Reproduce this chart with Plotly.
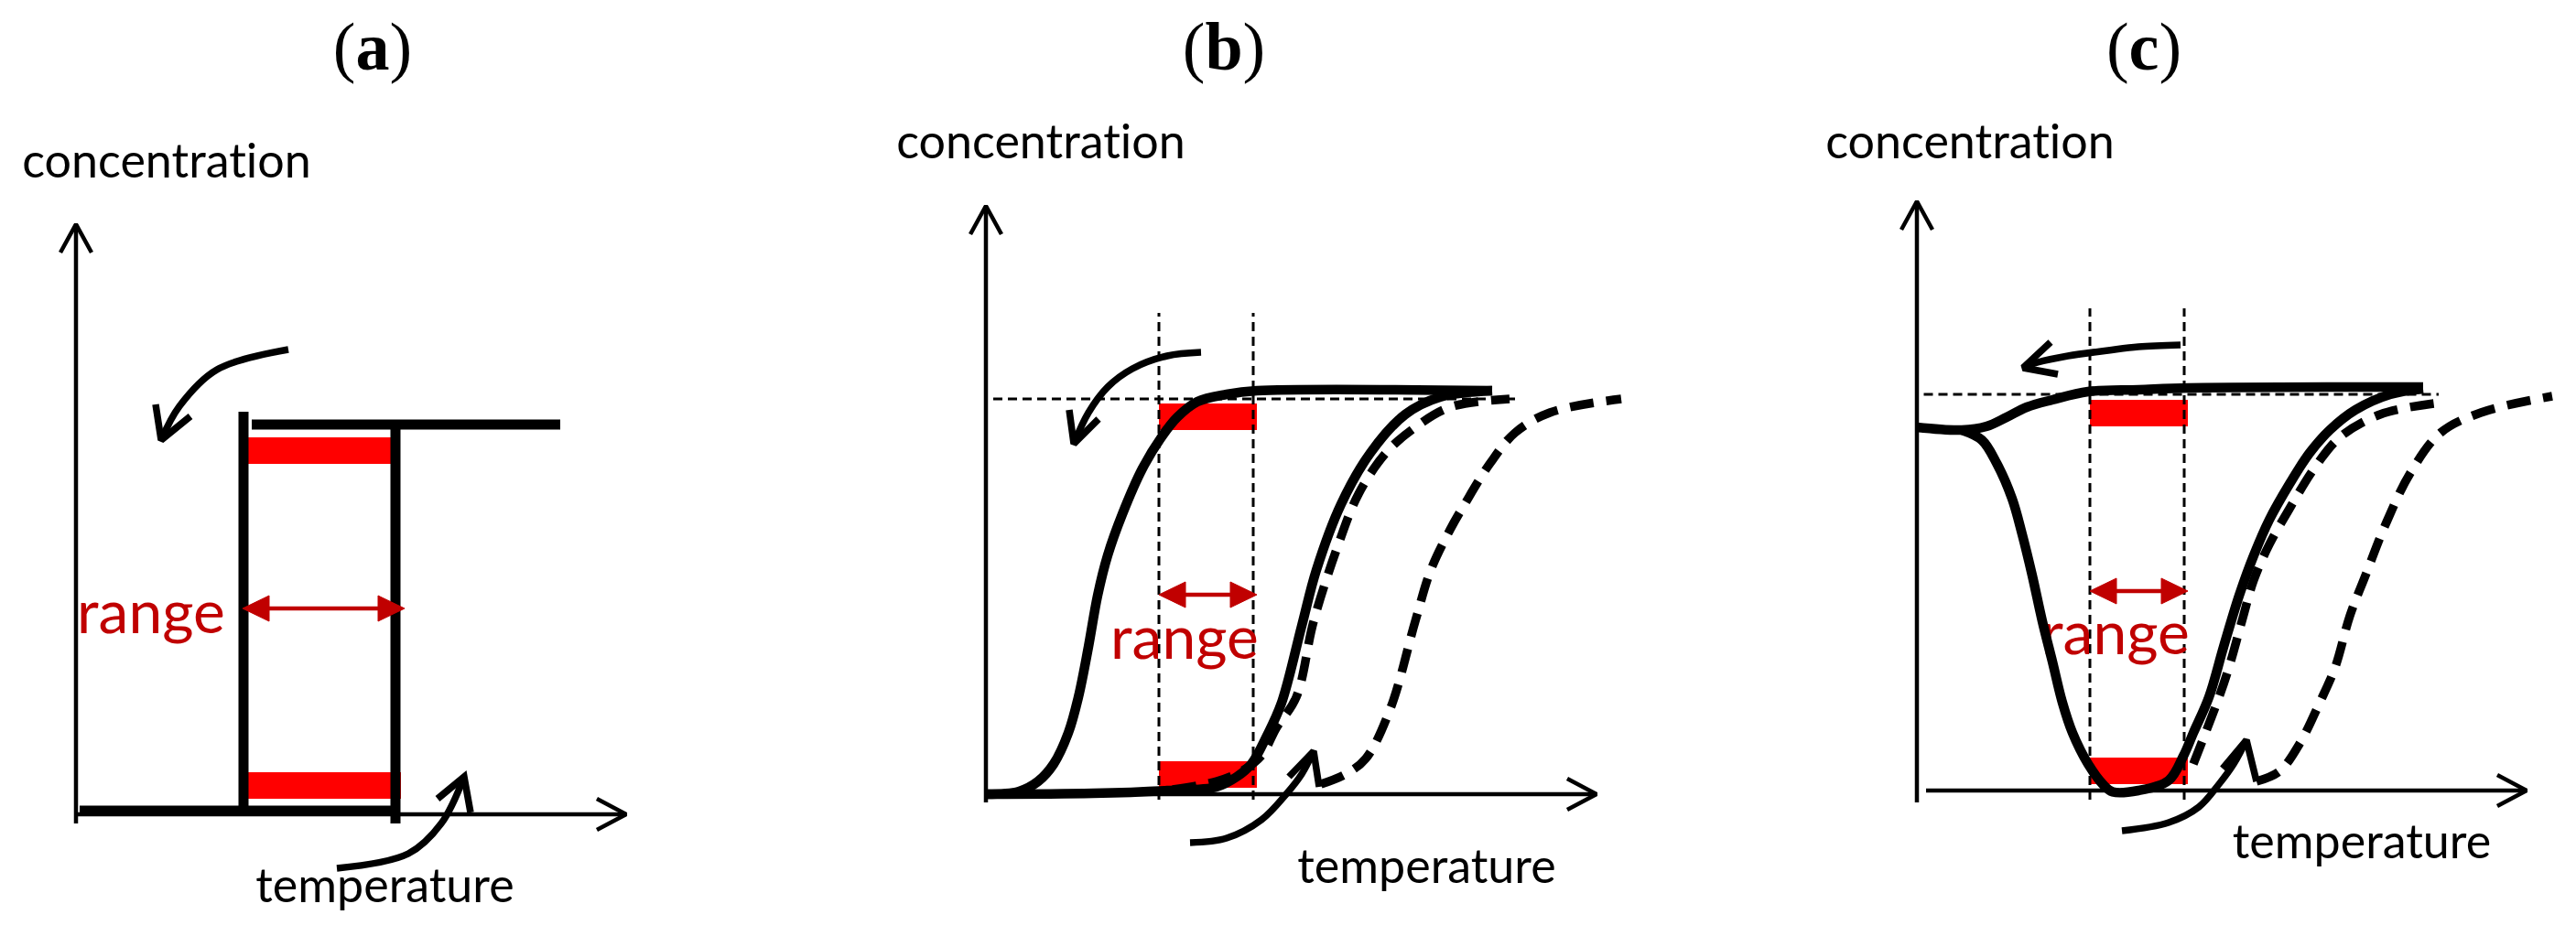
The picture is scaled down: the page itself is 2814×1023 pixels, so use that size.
import plotly.graph_objects as go

# ---------------- data ----------------
# Temperature T and concentration C in arbitrary schematic units.
panels = ['a', 'b', 'c']
title_T = [32.4, 26.0, 24.8]
title_C = [83.3, 81.1, 80.7]

y_label = 'concentrat\u200cion'   # ZWNJ stops the font's "ti" ligature
y_label_T = [9.9, 6.0, 5.8]
y_label_C = [70.9, 70.8, 70.4]
x_label = 'temperature'
x_label_T = [33.75, 48.15, 48.6]
x_label_C = [-8.3, -8.4, -6.1]
range_label = 'range'
range_label_T = [8.2, 21.7, 21.7]
range_label_C = [21.5, 16.5, 16.6]

# axes extents
y_axis_from = [-1.0, -0.9, -1.3]
y_axis_to = [64.5, 64.3, 64.4]
x_axis_from = [0.0, 0.0, 1.0]
x_axis_to = [60.1, 66.7, 66.6]

# "range" double arrow
range_T_from = [18.2, 18.9, 18.9]
range_T_to = [35.9, 29.6, 29.6]
range_C = [22.5, 21.8, 21.8]

# red bars
bar_top_C = [39.75, 41.25, 41.25]
bar_top_from = [17.9, 18.9, 18.9]
bar_top_to = [35.2, 29.6, 29.6]
bar_bot_C = [3.15, 2.15, 2.15]
bar_bot_from = [18.2, 18.9, 18.9]
bar_bot_to = [35.5, 29.6, 29.6]

# dashed guides in (b) and (c)
guide_T_left = {'b': 18.9, 'c': 18.9}
guide_T_right = {'b': 29.2, 'c': 29.2}
guide_C_from = {'b': -0.6, 'c': -1.0}
guide_C_to = {'b': 52.6, 'c': 52.7}
guide_level_C = {'b': 43.2, 'c': 43.3}
guide_level_T_from = {'b': 0.8, 'c': 0.75}
guide_level_T_to = {'b': 57.8, 'c': 57.0}

# ---- panel (a): ideal rectangular hysteresis ----
a_bottom_T = [0.4, 35.0]
a_bottom_C = [0.4, 0.4]
a_left_T = [18.3, 18.3]
a_left_C = [0.4, 44.0]
a_top_T = [19.2, 52.9]
a_top_C = [42.6, 42.6]
a_right_T = [34.9, 34.9]
a_right_C = [-1.0, 42.3]
a_cool_arrow_T = [23.2, 15.4, 11.3, 9.3]
a_cool_arrow_C = [50.8, 48.6, 44.6, 40.9]
a_cool_head_T = [8.7, 9.3, 12.5]
a_cool_head_C = [44.8, 40.9, 43.5]
a_heat_arrow_T = [28.5, 36.3, 39.9, 42.4]
a_heat_arrow_C = [-5.9, -4.3, -1.0, 4.1]
a_heat_head_T = [39.5, 42.4, 43.1]
a_heat_head_C = [1.7, 4.1, 0.2]

# ---- panel (b): sigmoidal hysteresis ----
b_cool_T = [0, 3.6, 5.7, 7.4, 9.0, 10.1, 11.2, 12.2, 13.3, 14.9, 17.1, 19.3, 20.9, 23.1, 26.3, 29.6, 55.3]
b_cool_C = [0, 0.3, 1.4, 3.3, 6.7, 10.6, 16.1, 21.7, 26.1, 30.6, 35.6, 39.2, 41.2, 42.9, 43.7, 44.1, 44.1]
b_heat_T = [0, 11.7, 19.8, 25.2, 27.4, 29.0, 30.7, 32.3, 34.5, 36.1, 38.8, 42.0, 45.8, 49.6, 55.3]
b_heat_C = [0, 0.1, 0.4, 0.8, 1.9, 3.3, 6.4, 10.0, 18.4, 24.5, 31.7, 37.3, 41.5, 43.4, 44.1]
b_dash1_T = [20.4, 25.2, 27.9, 30.1, 31.7, 33.9, 35.8, 38.5, 40.7, 43.7, 46.9, 50.7, 57.2]
b_dash1_C = [0.5, 1.4, 2.5, 4.2, 7.2, 10.6, 18.9, 27.3, 32.8, 37.3, 40.1, 42.3, 43.2]
b_dash2_T = [36.6, 39.3, 41.5, 44.2, 46.9, 48.6, 50.7, 52.3, 55.1, 57.8, 61.6, 69.4]
b_dash2_C = [1.1, 2.2, 3.9, 9.4, 18.9, 24.5, 28.9, 31.7, 36.2, 39.5, 41.7, 43.2]
b_cool_arrow_T = [23.5, 19.8, 16.0, 13.3, 11.2, 9.6]
b_cool_arrow_C = [48.3, 47.9, 46.5, 44.5, 41.7, 38.3]
b_cool_head_T = [9.1, 9.6, 12.3]
b_cool_head_C = [42.0, 38.3, 41.0]
b_heat_arrow_T = [22.3, 26.3, 30.1, 32.8, 34.5, 35.8]
b_heat_arrow_C = [-5.3, -4.8, -2.8, 0.0, 2.2, 4.7]
b_heat_head_T = [33.1, 35.8, 36.4]
b_heat_head_C = [1.9, 4.7, 0.8]

# ---- panel (c): hysteresis with a dip ----
c_top_T = [0, 4.9, 7.6, 9.8, 12.0, 14.8, 18.7, 24.2, 29.7, 55.3]
c_top_C = [39.7, 39.4, 39.8, 40.8, 41.9, 42.7, 43.6, 43.8, 44.0, 44.1]
c_dip_T = [4.9, 7.1, 8.7, 10.4, 11.5, 12.6, 13.7, 14.8, 15.9, 17.0, 18.7, 20.3, 21.4, 24.2,
           27.5, 29.1, 30.2, 31.9, 33.5, 35.2, 36.8, 38.5, 40.7, 42.9, 45.1, 47.9, 51.7, 55.3]
c_dip_C = [39.4, 38.3, 35.8, 31.9, 28.0, 23.5, 18.5, 14.1, 9.6, 6.3, 2.9, 0.7, -0.15, 0.0,
           1.1, 3.75, 6.3, 10.2, 15.7, 21.3, 25.7, 29.6, 33.5, 36.9, 39.4, 41.6, 43.3, 43.9]
c_dash1_T = [30.2, 33.0, 34.1, 35.5, 36.8, 38.5, 40.7, 43.4, 46.2, 50.6, 57.2]
c_dash1_C = [2.9, 10.2, 13.5, 18.5, 23.0, 26.9, 30.8, 35.2, 38.6, 41.1, 42.4]
c_dash2_T = [37.1, 39.6, 41.8, 44.0, 45.7, 47.3, 49.0, 51.2, 53.9, 57.2, 61.6, 69.4]
c_dash2_C = [1.0, 2.1, 5.1, 9.6, 13.5, 19.1, 23.5, 29.1, 34.7, 39.1, 41.3, 43.1]
c_cool_arrow_T = [28.8, 24.2, 20.9, 16.5, 13.2, 11.6]
c_cool_arrow_C = [48.7, 48.5, 48.1, 47.5, 46.8, 46.2]
c_cool_head_T = [14.6, 11.6, 15.4]
c_cool_head_C = [49.0, 46.2, 45.5]
c_heat_arrow_T = [22.4, 27.5, 30.8, 33.0, 34.6, 36.0]
c_heat_arrow_C = [-4.4, -3.5, -1.8, 0.7, 2.9, 5.5]
c_heat_head_T = [33.4, 36.0, 37.1]
c_heat_head_C = [2.4, 5.5, 1.0]

# ---------------- layout geometry ----------------
W, H = 2814, 1023
UNIT = 10.0  # pixels per schematic unit
geom = {  # axis origin (px) and horizontal span (px) of each panel
    'a': dict(ox=83, oy=890, L=0, R=910),
    'b': dict(ox=1077, oy=868, L=910, R=1910),
    'c': dict(ox=2094, oy=864, L=1910, R=W),
}
XA = {'a': 'x', 'b': 'x2', 'c': 'x3'}
YA = {'a': 'y', 'b': 'y2', 'c': 'y3'}
BLACK = '#000000'
RED = '#ff0000'
DARKRED = '#c00000'
TEXT_FONT = 'Lato, Carlito, Calibri, sans-serif'
SERIF = 'Liberation Serif, Times New Roman, serif'
W_CURVE, W_DASH, W_ARROW, W_AXIS, W_GUIDE, W_LOOP = 10.5, 9.5, 7.5, 4.5, 3, 11

fig = go.Figure()


def add_line(p, T, C, width, dash='solid', shape='linear', color=BLACK):
    fig.add_trace(go.Scatter(
        x=T, y=C, mode='lines', xaxis=XA[p], yaxis=YA[p],
        line=dict(color=color, width=width, dash=dash, shape=shape, smoothing=1.0),
        hoverinfo='skip', showlegend=False))


def add_text(p, T, C, text, size, color=BLACK, family=TEXT_FONT):
    fig.add_trace(go.Scatter(
        x=[T], y=[C], mode='text', text=[text], textposition='middle center',
        textfont=dict(family=family, size=size, color=color),
        xaxis=XA[p], yaxis=YA[p], hoverinfo='skip', showlegend=False))


def add_bars(p, i):
    fig.add_trace(go.Bar(
        y=[bar_top_C[i], bar_bot_C[i]],
        x=[bar_top_to[i] - bar_top_from[i], bar_bot_to[i] - bar_bot_from[i]],
        base=[bar_top_from[i], bar_bot_from[i]],
        orientation='h', width=2.9, marker=dict(color=RED, line=dict(width=0)),
        xaxis=XA[p], yaxis=YA[p], hoverinfo='skip', showlegend=False))


def add_range_arrow(p, i):
    t0, t1, c = range_T_from[i], range_T_to[i], range_C[i]
    hl, hw = 2.9, 1.4  # arrowhead length / half width (units)
    add_line(p, [t0 + hl * 0.8, t1 - hl * 0.8], [c, c], 4.5, color=DARKRED)
    for tip, back in ((t0, t0 + hl), (t1, t1 - hl)):
        fig.add_trace(go.Scatter(
            x=[tip, back, back, tip], y=[c, c + hw, c - hw, c], mode='lines',
            fill='toself', fillcolor=DARKRED, line=dict(color=DARKRED, width=1),
            xaxis=XA[p], yaxis=YA[p], hoverinfo='skip', showlegend=False))


def add_axes(p, i):
    add_line(p, [0, 0], [y_axis_from[i], y_axis_to[i]], W_AXIS)
    top = y_axis_to[i]
    add_line(p, [-1.7, 0, 1.7], [top - 3.1, top, top - 3.1], W_AXIS)
    add_line(p, [x_axis_from[i], x_axis_to[i]], [0, 0], W_AXIS)
    tip = x_axis_to[i]
    add_line(p, [tip - 3.2, tip, tip - 3.2], [1.7, 0, -1.7], W_AXIS)


# ---------- panel (a) ----------
i = 0
add_text('a', title_T[i], title_C[i], '(<b>a</b>)', 74, family=SERIF)
add_text('a', y_label_T[i], y_label_C[i], y_label, 52)
add_text('a', x_label_T[i], x_label_C[i], x_label, 52)
add_text('a', range_label_T[i], range_label_C[i], range_label, 66, color=DARKRED)
add_axes('a', i)
for T, C in ((a_bottom_T, a_bottom_C), (a_left_T, a_left_C), (a_top_T, a_top_C), (a_right_T, a_right_C)):
    add_line('a', T, C, W_LOOP)
add_bars('a', i)
add_range_arrow('a', i)
add_line('a', a_cool_arrow_T, a_cool_arrow_C, W_ARROW, shape='spline')
add_line('a', a_cool_head_T, a_cool_head_C, W_ARROW)
add_line('a', a_heat_arrow_T, a_heat_arrow_C, W_ARROW, shape='spline')
add_line('a', a_heat_head_T, a_heat_head_C, W_ARROW)

# ---------- panels (b) and (c) ----------
curves = {
    'b': dict(solid=[(b_cool_T, b_cool_C), (b_heat_T, b_heat_C)],
              dashed=[(b_dash1_T, b_dash1_C), (b_dash2_T, b_dash2_C)],
              arrows=[(b_cool_arrow_T, b_cool_arrow_C, b_cool_head_T, b_cool_head_C),
                      (b_heat_arrow_T, b_heat_arrow_C, b_heat_head_T, b_heat_head_C)]),
    'c': dict(solid=[(c_top_T, c_top_C), (c_dip_T, c_dip_C)],
              dashed=[(c_dash1_T, c_dash1_C), (c_dash2_T, c_dash2_C)],
              arrows=[(c_cool_arrow_T, c_cool_arrow_C, c_cool_head_T, c_cool_head_C),
                      (c_heat_arrow_T, c_heat_arrow_C, c_heat_head_T, c_heat_head_C)]),
}
for i, p in ((1, 'b'), (2, 'c')):
    add_text(p, title_T[i], title_C[i], '(<b>%s</b>)' % p, 74, family=SERIF)
    add_text(p, y_label_T[i], y_label_C[i], y_label, 52)
    add_text(p, x_label_T[i], x_label_C[i], x_label, 52)
    # dashed guide lines
    for gt in (guide_T_left[p], guide_T_right[p]):
        add_line(p, [gt, gt], [guide_C_from[p], guide_C_to[p]], W_GUIDE, dash='10px,6px')
    add_line(p, [guide_level_T_from[p], guide_level_T_to[p]], [guide_level_C[p]] * 2, W_GUIDE, dash='10px,6px')
    add_bars(p, i)
    add_text(p, range_label_T[i], range_label_C[i], range_label, 66, color=DARKRED)
    add_range_arrow(p, i)
    add_axes(p, i)
    for T, C in curves[p]['dashed']:
        add_line(p, T, C, W_DASH, dash='26px,14px', shape='spline')
    for T, C in curves[p]['solid']:
        add_line(p, T, C, W_CURVE, shape='spline')
    for T, C, hT, hC in curves[p]['arrows']:
        add_line(p, T, C, W_ARROW, shape='spline')
        add_line(p, hT, hC, W_ARROW)

layout = dict(width=W, height=H, margin=dict(l=0, r=0, t=0, b=0),
              paper_bgcolor='white', plot_bgcolor='white', barmode='overlay',
              showlegend=False)
for p in panels:
    g = geom[p]
    sfx = '' if p == 'a' else XA[p][1:]
    layout['xaxis' + sfx] = dict(domain=[g['L'] / W, g['R'] / W],
                                 range=[(g['L'] - g['ox']) / UNIT, (g['R'] - g['ox']) / UNIT],
                                 visible=False, fixedrange=True)
    layout['yaxis' + sfx] = dict(domain=[0, 1],
                                 range=[(g['oy'] - H) / UNIT, g['oy'] / UNIT],
                                 visible=False, fixedrange=True)
    if p != 'a':
        layout['yaxis' + sfx]['anchor'] = XA[p]
        layout['xaxis' + sfx]['anchor'] = YA[p]
fig.update_layout(**layout)

fig.write_html("out.html", config={'displayModeBar': False, 'staticPlot': True},
               post_script="document.body.style.margin='0';")
